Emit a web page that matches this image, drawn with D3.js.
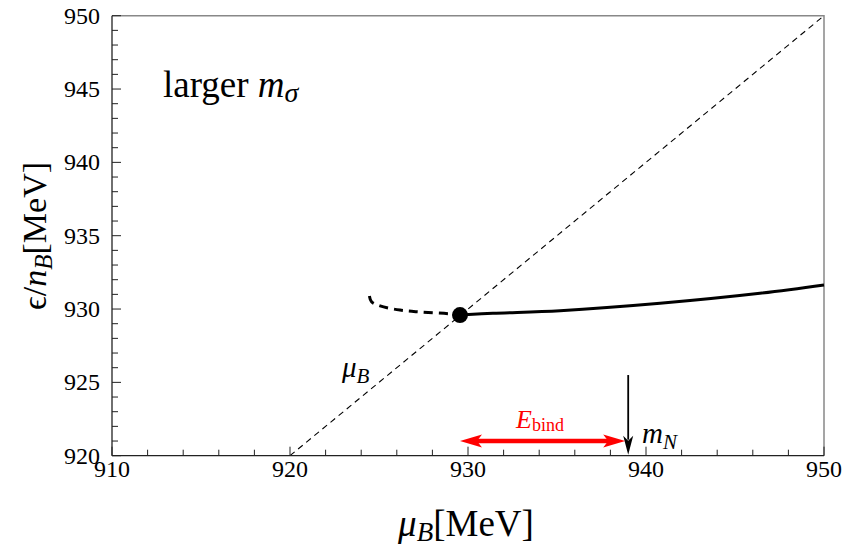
<!DOCTYPE html>
<html><head><meta charset="utf-8">
<script src="https://cdn.jsdelivr.net/npm/d3@7"></script>
<style>body{margin:0;background:#fff}svg{display:block}text{font-family:"Liberation Serif","Times New Roman",serif}</style>
</head><body>
<svg id="c" width="844" height="548"></svg>
<script>
const xDomain = [910, 950];
const yDomain = [920, 950];
const xTicks = [910, 920, 930, 940, 950];
const yTicks = [920, 925, 930, 935, 940, 945, 950];
// unstable (dashed) branch
const unstableMu = [924.46, 924.58, 925.06, 926.18, 927.30, 928.99, 929.55];
const unstableE  = [930.89, 930.50, 930.21, 929.93, 929.80, 929.67, 929.59];
// stable (solid) branch
const stableMu = [929.55, 931.40, 935.17, 940.79, 946.40, 950.0];
const stableE  = [929.59, 929.71, 929.89, 930.39, 931.07, 931.64];
const pointMu = 929.55, pointE = 929.59;
const mN = 939.0;
const arrowTop = 925.5;
const bindY = 921.0;

const svg = d3.select("#c");
const L = 112, R = 824, T = 15.7, B = 455.7;
const x = d3.scaleLinear().domain(xDomain).range([L, R]);
const y = d3.scaleLinear().domain(yDomain).range([B, T]);

// diagonal mu_B = eps line
svg.append("line").attr("x1", x(920)).attr("y1", y(920)).attr("x2", x(950)).attr("y2", y(950))
  .attr("stroke", "#000").attr("stroke-width", 1.1).attr("stroke-dasharray", "6,4.5");

// frame top/right
svg.append("path").attr("d", `M${L},${T}H${R}V${B}`).attr("fill", "none").attr("stroke", "#888").attr("stroke-width", 1.5);

// axes with inside ticks
const xMinor = d3.range(910, 951, 2);
const yMinor = d3.range(920, 951, 1);
const gx = svg.append("g");
gx.selectAll("line.mi").data(xMinor).join("line")
  .attr("x1", d => x(d)).attr("x2", d => x(d)).attr("y1", B).attr("y2", d => B - (xTicks.includes(d) ? 9 : 6))
  .attr("stroke", "#222").attr("stroke-width", 1);
gx.append("line").attr("x1", L).attr("x2", R).attr("y1", B).attr("y2", B).attr("stroke", "#222").attr("stroke-width", 1.3);
gx.selectAll("text").data(xTicks).join("text")
  .attr("x", d => x(d)).attr("y", 477).attr("text-anchor", "middle").attr("font-size", 24).text(d => d);

const gy = svg.append("g");
gy.selectAll("line.mi").data(yMinor).join("line")
  .attr("y1", d => y(d)).attr("y2", d => y(d)).attr("x1", L).attr("x2", d => L + (yTicks.includes(d) ? 9 : 6))
  .attr("stroke", "#222").attr("stroke-width", 1);
gy.append("line").attr("x1", L).attr("x2", L).attr("y1", T).attr("y2", B).attr("stroke", "#222").attr("stroke-width", 1.3);
gy.selectAll("text").data(yTicks).join("text")
  .attr("x", 100).attr("y", d => y(d) + 8).attr("text-anchor", "end").attr("font-size", 24).text(d => d);

// curves
const line = d3.line().x(d => x(d[0])).y(d => y(d[1])).curve(d3.curveCatmullRom);
svg.append("path").datum(unstableMu.map((m, i) => [m, unstableE[i]])).attr("d", line)
  .attr("fill", "none").attr("stroke", "#000").attr("stroke-width", 3).attr("stroke-dasharray", "9,6");
svg.append("path").datum(stableMu.map((m, i) => [m, stableE[i]])).attr("d", line)
  .attr("fill", "none").attr("stroke", "#000").attr("stroke-width", 3);
svg.append("circle").attr("cx", x(pointMu)).attr("cy", y(pointE)).attr("r", 8).attr("fill", "#000");

// m_N arrow
svg.append("line").attr("x1", x(mN)).attr("x2", x(mN)).attr("y1", y(arrowTop)).attr("y2", B - 16)
  .attr("stroke", "#000").attr("stroke-width", 1.8);
svg.append("path").attr("d", `M${x(mN)},${B - 1}L${x(mN) - 5},${B - 20}L${x(mN)},${B - 15}L${x(mN) + 5},${B - 20}Z`).attr("fill", "#000");

// E_bind double arrow
const rx1 = x(pointMu), rx2 = x(mN) - 3, ry = y(bindY);
svg.append("line").attr("x1", rx1 + 16).attr("x2", rx2 - 16).attr("y1", ry).attr("y2", ry)
  .attr("stroke", "#f00").attr("stroke-width", 4.5);
svg.append("path").attr("d", `M${rx1},${ry}L${rx1 + 22},${ry - 6.5}L${rx1 + 17},${ry}L${rx1 + 22},${ry + 6.5}Z`).attr("fill", "#f00");
svg.append("path").attr("d", `M${rx2},${ry}L${rx2 - 22},${ry - 6.5}L${rx2 - 17},${ry}L${rx2 - 22},${ry + 6.5}Z`).attr("fill", "#f00");

// labels
function sub(t, main, subText, x0, y0, fs, fill, subFs, dy) {
  const el = svg.append("text").attr("x", x0).attr("y", y0).attr("font-size", fs).attr("fill", fill || "#000");
  el.append("tspan").attr("font-style", "italic").text(main);
  el.append("tspan").attr("font-size", subFs).attr("dy", dy).attr("font-style", t).text(subText);
  return el;
}
sub("normal", "E", "bind", 516, 428, 26, "#f00", 18, 3);
sub("italic", "m", "N", 642, 443, 29, "#000", 21, 6);
sub("italic", "μ", "B", 342, 377, 29, "#000", 21, 6);

const lg = svg.append("text").attr("x", 163).attr("y", 97).attr("font-size", 37);
lg.append("tspan").text("larger ");
lg.append("tspan").attr("font-style", "italic").text("m");
lg.append("tspan").attr("font-style", "italic").attr("font-size", 28).attr("dy", 5).text("σ");

const xl = svg.append("text").attr("x", 466).attr("y", 536).attr("text-anchor", "middle").attr("font-size", 37);
xl.append("tspan").attr("font-style", "italic").text("μ");
xl.append("tspan").attr("font-style", "italic").attr("font-size", 27).attr("dy", 5).text("B");
xl.append("tspan").attr("dy", -5).text("[MeV]");

const yl = svg.append("text").attr("transform", "translate(46,236) rotate(-90)").attr("text-anchor", "middle").attr("font-size", 34);
yl.append("tspan").text("ϵ/");
yl.append("tspan").attr("font-style", "italic").text("n");
yl.append("tspan").attr("font-style", "italic").attr("font-size", 25).attr("dy", 6).text("B");
yl.append("tspan").attr("dy", -6).text("[MeV]");
</script>
</body></html>
